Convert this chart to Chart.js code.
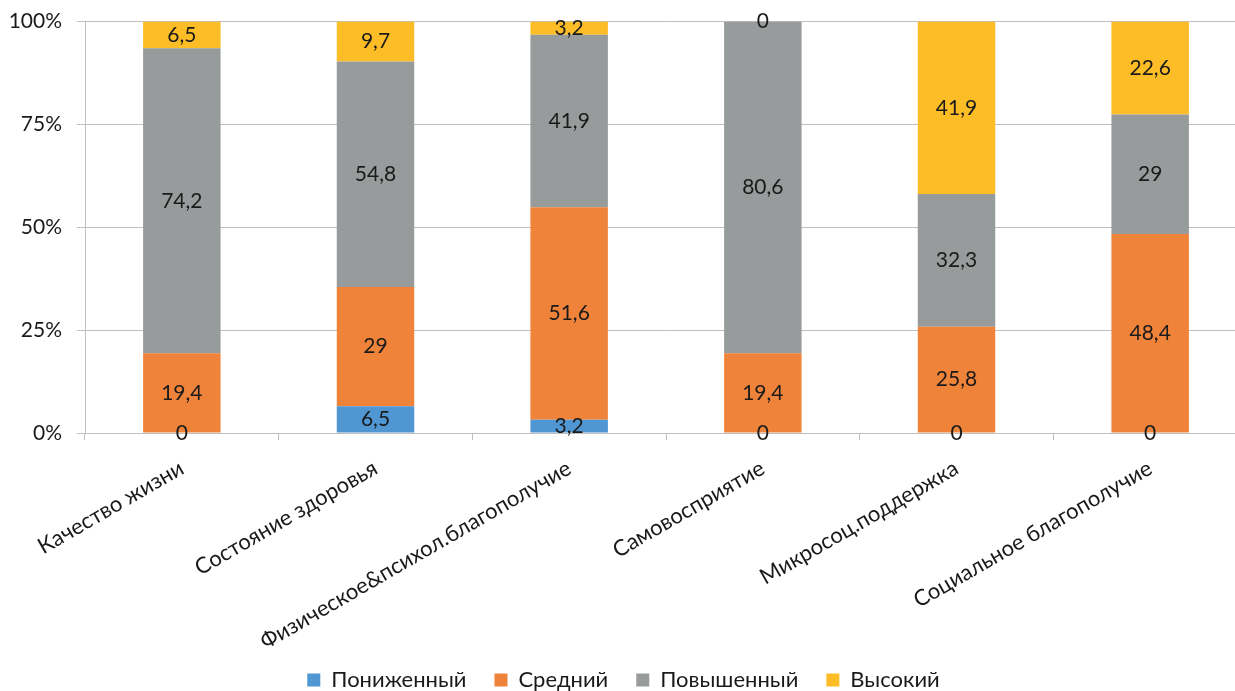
<!DOCTYPE html>
<html>
<head>
<meta charset="utf-8">
<script src="https://cdn.jsdelivr.net/npm/chart.js@4.4.1/dist/chart.umd.min.js"></script>
<style>
  html, body { margin: 0; padding: 0; background: #fff; overflow: hidden; }
  #wrap { position: relative; width: 1247px; height: 707px; margin-top: -6px; }
</style>
</head>
<body>
<div id="wrap"><canvas id="c"></canvas></div>
<script>
const categories = [
  'Качество жизни',
  'Состояние здоровья',
  'Физическое&психол.благополучие',
  'Самовосприятие',
  'Микросоц.поддержка',
  'Социальное благополучие'
];
const seriesNames = ['Пониженный', 'Средний', 'Повышенный', 'Высокий'];
const lowered = [0, 6.5, 3.2, 0, 0, 0];
const medium = [19.4, 29, 51.6, 19.4, 25.8, 48.4];
const raised = [74.2, 54.8, 41.9, 80.6, 32.3, 29];
const high = [6.5, 9.7, 3.2, 0, 41.9, 22.6];
const yTicks = [0, 25, 50, 75, 100];

const colors = ['#5096D3', '#F0833A', '#989B9B', '#FDBD27'];
const FONT = 'Lato, Calibri, "Open Sans", sans-serif';
const TEXT = '#1a1a1a';

const raw = [lowered, medium, raised, high];
const totals = categories.map((_, j) => raw.reduce((s, arr) => s + arr[j], 0));

const datasets = raw.map((arr, i) => ({
  label: seriesNames[i],
  data: arr.map((v, j) => v / totals[j] * 100),
  rawValues: arr,
  backgroundColor: colors[i],
  borderWidth: 0,
  barPercentage: 0.4,
  categoryPercentage: 1.0
}));

const valueLabels = {
  id: 'valueLabels',
  afterLayout(chart) {
    // let rotated category labels extend below the axis box (no clipping)
    chart.scales.x._computeLabelArea = () => undefined;
  },
  afterDatasetsDraw(chart) {
    const ctx = chart.ctx;
    ctx.save();
    ctx.font = '21px ' + FONT;
    ctx.fillStyle = TEXT;
    ctx.textAlign = 'center';
    ctx.textBaseline = 'middle';
    chart.data.datasets.forEach((ds, i) => {
      const meta = chart.getDatasetMeta(i);
      meta.data.forEach((bar, j) => {
        const p = bar.getProps(['x', 'y', 'base'], true);
        const txt = String(ds.rawValues[j]).replace('.', ',');
        ctx.fillText(txt, p.x, (p.y + p.base) / 2);
      });
    });
    ctx.restore();
  }
};

new Chart(document.getElementById('c'), {
  type: 'bar',
  data: { labels: categories, datasets },
  plugins: [valueLabels],
  options: {
    responsive: true,
    maintainAspectRatio: false,
    animation: false,
    layout: { padding: { top: 6, left: 0, right: 0, bottom: 0 } },
    plugins: {
      legend: {
        position: 'bottom',
        labels: {
          boxWidth: 13,
          boxHeight: 13,
          padding: 28,
          color: TEXT,
          font: { family: FONT, size: 22 }
        }
      },
      tooltip: { enabled: false }
    },
    scales: {
      x: {
        stacked: true,
        offset: true,
        grid: { display: true, drawOnChartArea: false, offset: true, tickLength: 7, color: '#bfbfbf' },
        border: { color: '#bfbfbf' },
        ticks: {
          autoSkip: false,
          minRotation: 30,
          maxRotation: 30,
          padding: 15,
          color: TEXT,
          font: { family: FONT, size: 22 }
        },
        afterFit(scale) { scale.height = 208; }
      },
      y: {
        stacked: true,
        min: 0,
        max: 100,
        afterBuildTicks(scale) { scale.ticks = yTicks.map(v => ({ value: v })); },
        grid: { color: '#bfbfbf', tickLength: 8 },
        border: { color: '#bfbfbf' },
        ticks: {
          padding: 15,
          color: TEXT,
          font: { family: FONT, size: 21 },
          callback: v => v + '%'
        },
        afterFit(scale) { scale.width = 85; }
      }
    }
  }
});
</script>
</body>
</html>
